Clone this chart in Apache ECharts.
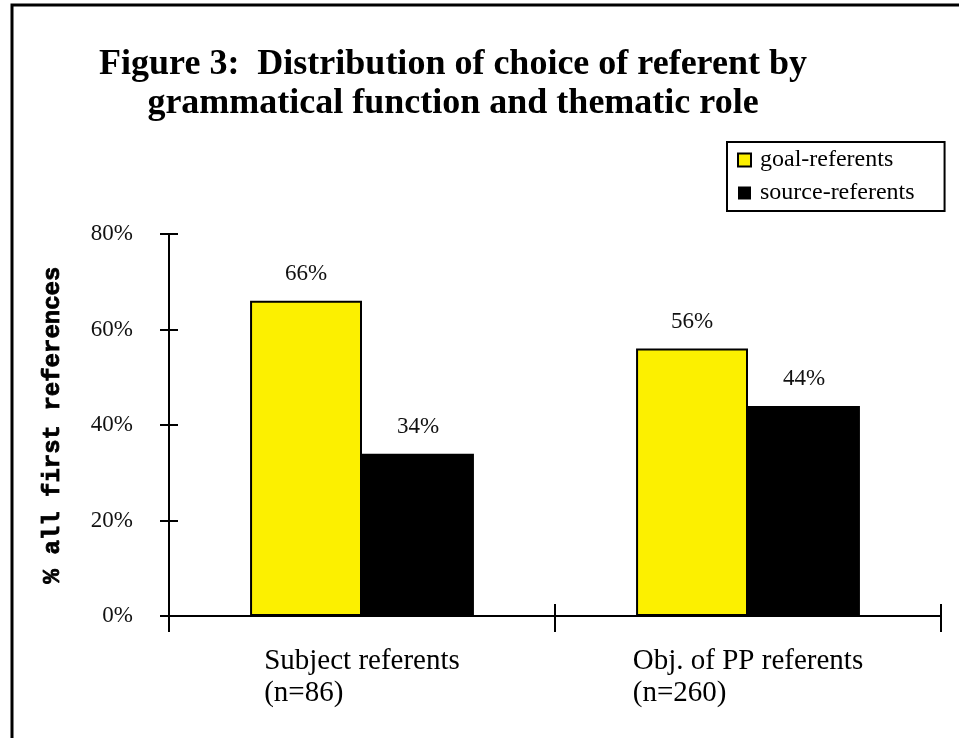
<!DOCTYPE html>
<html>
<head>
<meta charset="utf-8">
<script src="https://cdn.jsdelivr.net/npm/echarts@6/dist/echarts.min.js"></script>
<style>
  html, body { margin: 0; padding: 0; background: #fff; }
  #chart { width: 959px; height: 738px; }
</style>
</head>
<body>
<div id="chart"></div>
<script>
  // data
  var categories = ['Subject referents\n(n=86)', 'Obj. of PP referents\n(n=260)'];
  var goalReferents = [66, 56];
  var sourceReferents = [34, 44];
  var yTicks = [0, 20, 40, 60, 80];

  var chart = echarts.init(document.getElementById('chart'));

  var serif = '"Liberation Serif", "Times New Roman", serif';

  var option = {
    backgroundColor: '#fff',
    animation: false,
    title: {
      text: 'Figure 3:  Distribution of choice of referent by\ngrammatical function and thematic role',
      left: 448,
      top: 40,
      textAlign: 'center',
      textStyle: {
        fontFamily: serif,
        fontWeight: 'bold',
        fontSize: 36,
        lineHeight: 39,
        color: '#000'
      }
    },
    legend: {
      orient: 'vertical',
      left: 727,
      top: 142,
      padding: [6, 30, 6, 10],
      itemGap: 9,
      itemWidth: 13,
      itemHeight: 13,
      icon: 'rect',
      borderColor: '#000',
      borderWidth: 2,
      backgroundColor: '#fff',
      textStyle: { fontFamily: serif, fontSize: 24, color: '#000', padding: [0, 0, 0, 4] },
      data: ['goal-referents', 'source-referents']
    },
    graphic: [{
      type: 'polyline',
      shape: { points: [[12, 738], [12, 5], [959, 5]] },
      style: { stroke: '#000', lineWidth: 3, fill: null }
    }],
    grid: { left: 169, right: 18, top: 234, bottom: 122 },
    xAxis: [{
      type: 'category',
      data: categories,
      boundaryGap: true,
      axisLine: { lineStyle: { color: '#000', width: 2 } },
      axisTick: { show: true, length: 16, interval: 0, lineStyle: { color: '#000', width: 2 } },
      axisLabel: {
        interval: 0,
        margin: 29,
        formatter: function (v) {
          return v.split('\n').map(function (s) { return '{a|' + s + '}'; }).join('\n');
        },
        rich: {
          a: { fontFamily: serif, fontSize: 29, lineHeight: 32, color: '#000', align: 'left' }
        }
      }
    }, {
      type: 'category',
      data: categories,
      position: 'bottom',
      boundaryGap: true,
      axisLine: { show: false },
      axisTick: { show: true, inside: true, length: 12, interval: 0, lineStyle: { color: '#000', width: 2 } },
      axisLabel: { show: false }
    }],
    yAxis: [{
      type: 'value',
      min: yTicks[0],
      max: yTicks[yTicks.length - 1],
      interval: 20,
      name: '% all first references',
      nameLocation: 'middle',
      nameRotate: 90,
      nameGap: 104,
      nameTextStyle: {
        fontFamily: '"Liberation Mono", "DejaVu Sans Mono", monospace',
        fontWeight: 'bold',
        fontSize: 24,
        color: '#000',
        textBorderColor: '#000',
        textBorderWidth: 0.8
      },
      splitLine: { show: false },
      axisLine: { show: true, lineStyle: { color: '#000', width: 2 } },
      axisTick: { show: true, length: 9, lineStyle: { color: '#000', width: 2 } },
      axisLabel: {
        margin: 36,
        formatter: '{value}%',
        fontFamily: serif,
        fontSize: 23,
        color: '#111'
      }
    }, {
      type: 'value',
      min: yTicks[0],
      max: yTicks[yTicks.length - 1],
      interval: 20,
      position: 'left',
      splitLine: { show: false },
      axisLine: { show: false },
      axisTick: { show: true, inside: true, length: 9, lineStyle: { color: '#000', width: 2 } },
      axisLabel: { show: false }
    }],
    series: [{
      name: 'goal-referents',
      type: 'bar',
      barGap: 0,
      barCategoryGap: '42%',
      data: goalReferents,
      itemStyle: { color: '#FCF000', borderColor: '#000', borderWidth: 2 },
      label: {
        show: true,
        position: 'top',
        distance: 15,
        formatter: '{c}%',
        fontFamily: serif,
        fontSize: 23,
        color: '#111'
      }
    }, {
      name: 'source-referents',
      type: 'bar',
      data: sourceReferents,
      itemStyle: { color: '#000' },
      label: {
        show: true,
        position: 'top',
        distance: 15,
        formatter: '{c}%',
        fontFamily: serif,
        fontSize: 23,
        color: '#111'
      }
    }]
  };

  chart.setOption(option);
</script>
</body>
</html>
